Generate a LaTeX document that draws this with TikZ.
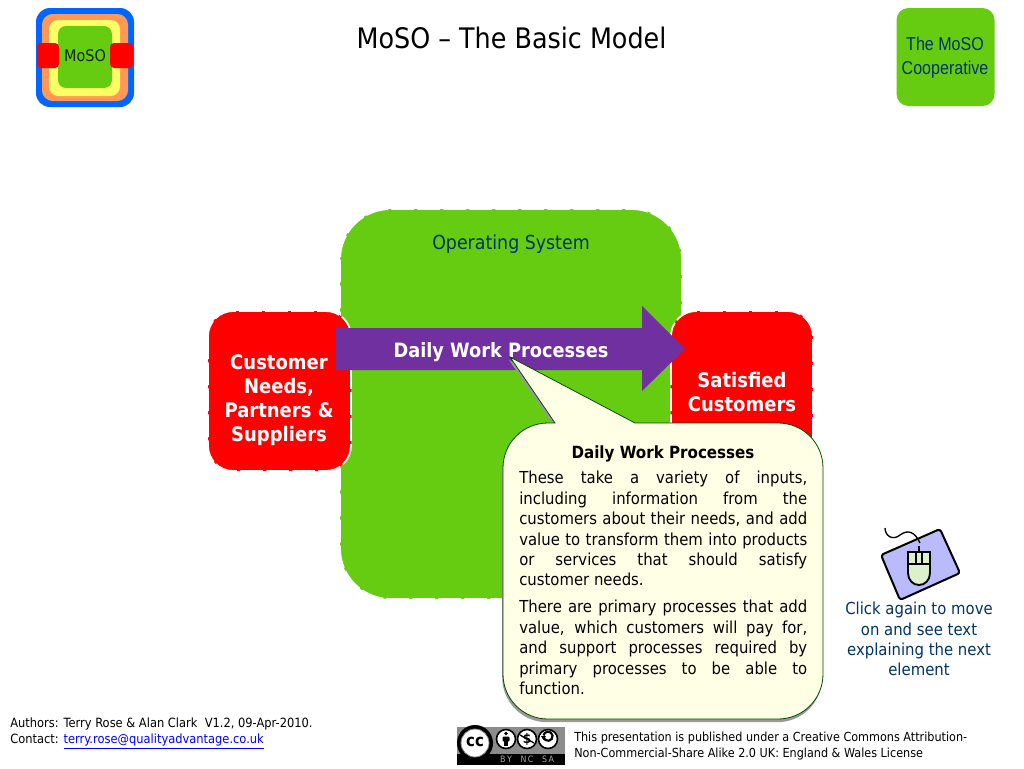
\documentclass[tikz,border=0pt]{standalone}
\usepackage{fontspec}
\setmainfont[FakeStretch=0.9]{DejaVu Sans}
\newfontfamily\narrowf[FakeStretch=0.86]{Liberation Sans}
\newcommand{\fsz}[2]{\fontsize{#1}{#2}\selectfont}
\definecolor{osgreen}{HTML}{66CC11}
\definecolor{navy}{HTML}{003366}
\definecolor{cream}{HTML}{FFFFE5}
\definecolor{purp}{HTML}{7030A0}
\definecolor{logob}{HTML}{0066FF}
\definecolor{logoo}{HTML}{FF9955}
\definecolor{logoy}{HTML}{FFFF66}
\newcommand{\jl}[1]{\hbox to 216pt{\spaceskip=.26em plus 1fil minus .1em\relax #1}}
\tikzset{x=0.75pt,y=-0.75pt,
  wdash/.style={draw=white,line width=1.3pt,dash pattern=on 17pt off 2.5pt},
  whitebold/.style={text=white,font=\bfseries\fsz{15}{18},align=center,inner sep=0pt},
  nav/.style={text=navy,align=center,inner sep=0pt},
  foot/.style={text=black,align=left,inner sep=0pt,anchor=west},
  lic/.style={draw=white,line width=0.8pt}}
\begin{document}
\begin{tikzpicture}
\useasboundingbox (0,0) rectangle (1024,768);
\fill[white] (0,0) rectangle (1024,768);
% logo
\fill[logob,rounded corners=10.5pt] (36,8) rectangle (134,107);
\fill[logoo,rounded corners=8pt] (42,14) rectangle (128,101);
\fill[logoy,rounded corners=7pt] (49,20) rectangle (120,96);
\fill[osgreen,rounded corners=6pt] (58,26) rectangle (112,88);
\fill[red,rounded corners=3pt] (37,43) rectangle (59,68);
\fill[red,rounded corners=3pt] (110,43) rectangle (133,68);
\node[text=black!80!osgreen,inner sep=0pt,font=\fsz{12}{14}] (logotext) at (85,56) {MoSO};
% title
\node[inner sep=0pt,font=\fsz{21.2}{24}] (title) at (511.5,38) {MoSO – The Basic Model};
% cooperative
\node[fill=osgreen,rounded corners=9pt,minimum width=73.5pt,minimum height=73.5pt,inner sep=0pt,
  text=navy,align=center,font=\narrowf\fsz{14}{18}] (coop) at (945.5,57) {};
\node[nav,font=\narrowf\fsz{14}{18}] (cooptext) at (945,58) {The MoSO\\Cooperative};
% main shapes
\path[fill=osgreen,wdash,rounded corners=38pt] (340,209) rectangle (682,599);
\node[nav,font=\fsz{14.5}{18}] (os) at (511,244) {Operating System};
\path[fill=red,wdash,rounded corners=19pt] (208,311) rectangle (351,471);
\node[whitebold] (cust) at (279,400) {Customer\\Needs,\\Partners \&\\Suppliers};
\path[fill=red,wdash,rounded corners=19pt] (671,311) rectangle (813,471);
\node[whitebold] (sat) at (742,392) {Satisfied\\Customers};
% arrow
\fill[purp] (336,328) -- (642,328) -- (642,306) -- (685,349) -- (642,391) -- (642,370) -- (336,370) -- cycle;
\node[whitebold,font=\bfseries\fsz{14.8}{18}] (dwp) at (501,352) {Daily Work Processes};
% callout
\def\callout{(555,423) -- (510,357) -- (635,423) -- (778,423) .. controls (803,423) and (823,443) .. (823,468) -- (823,674) .. controls (823,699) and (803,719) .. (778,719) -- (548,719) .. controls (523,719) and (503,699) .. (503,674) -- (503,468) .. controls (503,443) and (523,423) .. (548,423) -- cycle}
\fill[black!40,xshift=-0.6pt,yshift=-2.4pt] \callout;
\draw[fill=cream,draw=black!70!green,line width=0.6pt] \callout;
\node[inner sep=0pt,font=\bfseries\fsz{12.6}{15}] (chead) at (663,454) {Daily Work Processes};
\node[inner sep=0pt,anchor=north west,font=\fsz{12.4}{15.3}] (cbody) at (519,471) {\begin{minipage}[t]{216pt}\lineskiplimit=-10pt
\jl{These take a variety of inputs,}
\jl{including information from the}
\jl{customers about their needs, and add}
\jl{value to transform them into products}
\jl{or services that should satisfy}
\hbox{customer needs.}
\vskip 5pt
\jl{There are primary processes that add}
\jl{value, which customers will pay for,}
\jl{and support processes required by}
\jl{primary processes to be able to}
\hbox{function.}
\end{minipage}};
% mouse
\draw[fill=blue!27,draw=black,line width=1.5pt,rounded corners=2pt] (940,529) -- (960,573) -- (900,600) -- (881,555) -- cycle;
\draw[black,line width=1pt] (920,543) .. controls (915,532) and (908,529) .. (900,535) .. controls (893,541) and (885,536) .. (885,528);
\draw[black,line width=1pt] (919,546) -- (919,552);
\draw[fill=yellow!30!green!20,draw=black,line width=1.4pt] (908,552) -- (930,552) -- (930,573) .. controls (930,580) and (925,585) .. (919,585) .. controls (913,585) and (908,580) .. (908,573) -- cycle;
\draw[black,line width=1pt] (908,564) -- (930,564) (916,552) -- (916,564) (922,552) -- (922,564);
\node[nav,font=\fsz{12.4}{15.2}] (click) at (919,639) {Click again to move\\on and see text\\explaining the next\\element};
% footer
\node[foot,font=\fsz{9.55}{12}] (authors) at (10,733.5) {Authors: Terry Rose \& Alan Clark\ \ V1.2, 09-Apr-2010.\\Contact: \textcolor{blue}{\underline{terry.rose@qualityadvantage.co.uk}}};
\node[foot,font=\fsz{9.35}{12.2}] (license) at (574,746) {This presentation is published under a Creative Commons Attribution-\\Non-Commercial-Share Alike 2.0 UK: England \& Wales License};
% cc badge
\fill[black!45] (457,727) rectangle (565,765);
\fill[black] (457,754) rectangle (565,765);
\fill[black] (475,743) circle[radius=18];
\draw[fill=white,draw=black!50,line width=0.6pt] (475,743) circle[radius=14];
\node[inner sep=0pt,font=\bfseries\fsz{12.5}{12}] (cc) at (475,742) {cc};
\foreach \cx/\nm in {506/i,527/s,548/a}{\draw[fill=white,draw=black,line width=1.2pt] (\cx,739) circle[radius=9.5];}
\fill[black] (506,733.5) circle[radius=1.8];
\fill[black,rounded corners=0.8pt] (502.5,736.5) rectangle (509.5,741.5);
\fill[black] (504.3,741) rectangle (507.7,746);
\node[inner sep=0pt,font=\bfseries\fsz{10}{12}] (nc) at (527,739) {\$};
\draw[black,line width=1pt] (520,735) -- (534,743);
\draw[black,line width=1.6pt] (543.5,737) arc[start angle=170,end angle=-170,radius=4.6];
\fill[black] (541,736) -- (546,736) -- (543.5,740) -- cycle;
\node[inner sep=0pt,text=black!35,font=\fsz{6.6}{8}] (by) at (506,759.5) {B\,Y};
\node[inner sep=0pt,text=black!35,font=\fsz{6.6}{8}] (ncl) at (527,759.5) {N\,C};
\node[inner sep=0pt,text=black!35,font=\fsz{6.6}{8}] (sa) at (548,759.5) {S\,A};
\end{tikzpicture}
\end{document}
